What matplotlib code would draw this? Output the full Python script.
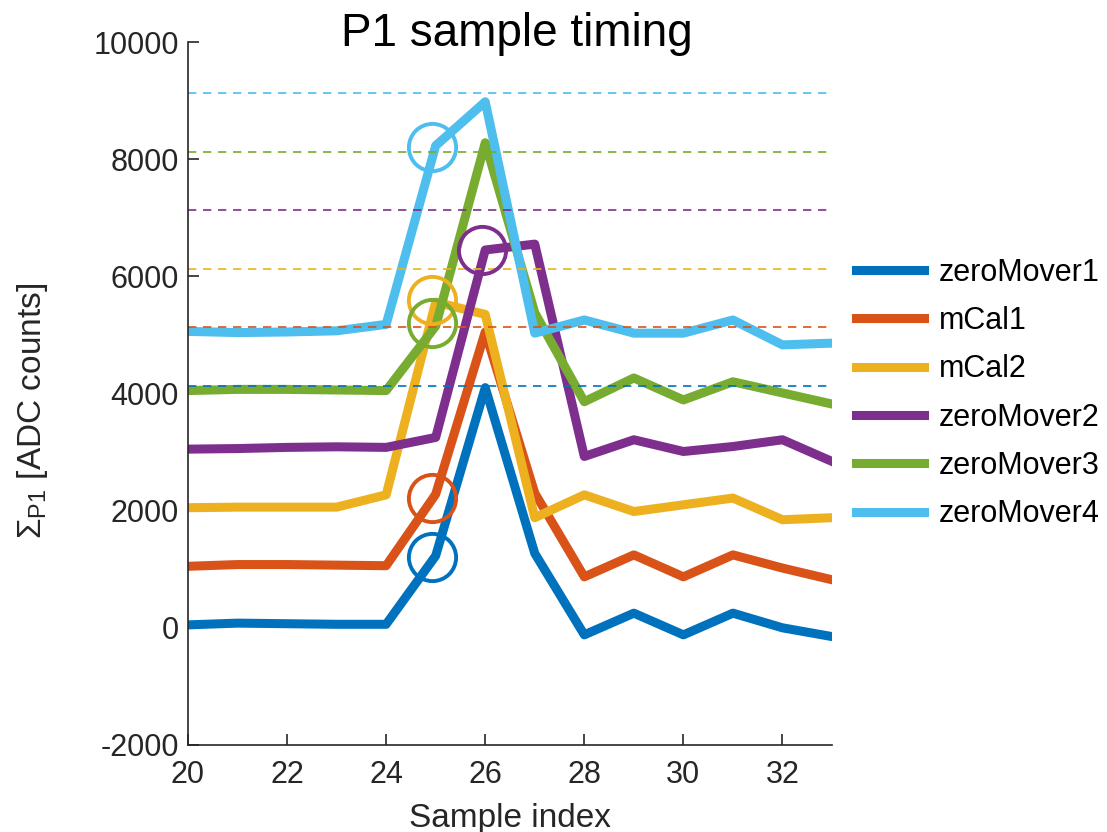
import numpy as np
import matplotlib.pyplot as plt

plt.rcParams['font.family'] = ['Liberation Sans', 'DejaVu Sans']
plt.rcParams['mathtext.fontset'] = 'custom'
plt.rcParams['mathtext.rm'] = 'Liberation Sans'
plt.rcParams['axes.unicode_minus'] = False

# Дані
samples = np.arange(20, 34)
names = ['zeroMover1', 'mCal1', 'mCal2', 'zeroMover2', 'zeroMover3', 'zeroMover4']
colors = ['#0072BD', '#D95319', '#EDB120', '#7E2F8E', '#77AC30', '#4DBEEE']

zeroMover1 = [50, 80, 70, 60, 60, 1230, 4100, 1270, -120, 250, -120, 250, 0, -150]
mCal1 = [1050, 1080, 1080, 1070, 1060, 2280, 5050, 2300, 870, 1245, 870, 1245, 1020, 820]
mCal2 = [2050, 2060, 2060, 2060, 2270, 5560, 5350, 1880, 2270, 1985, 2100, 2215, 1845, 1880]
zeroMover2 = [3050, 3060, 3080, 3090, 3080, 3250, 6450, 6550, 2925, 3210, 3010, 3095, 3210, 2840]
zeroMover3 = [4050, 4070, 4070, 4060, 4050, 5150, 8280, 5380, 3860, 4265, 3890, 4200, 4010, 3820]
zeroMover4 = [5060, 5040, 5050, 5070, 5180, 8230, 8980, 5030, 5255, 5030, 5030, 5255, 4830, 4860]
series = [zeroMover1, mCal1, mCal2, zeroMover2, zeroMover3, zeroMover4]

# Максимуми (пунктир) та точки таймінгу (кола)
max_levels = [4130, 5130, 6130, 7130, 8130, 9130]
timing_x = [24.92, 24.92, 24.92, 25.93, 24.92, 24.92]
timing_y = [1217, 2213, 5600, 6450, 5200, 8215]

fig = plt.figure(figsize=(11.07, 8.32), dpi=100)
ax = fig.add_axes([0.1698, 0.1046, 0.5818, 0.8449])

for s, name, c in zip(series, names, colors):
    ax.plot(samples, s, color=c, linewidth=6.5, label=name)

for lvl, c in zip(max_levels, colors):
    ax.axhline(lvl, color=c, linewidth=1.2, linestyle=(0, (5, 4)))

for tx, ty, c in zip(timing_x, timing_y, colors):
    ax.plot(tx, ty, 'o', markersize=34, markerfacecolor='none',
            markeredgecolor=c, markeredgewidth=2.8)

ax.set_xlim(20, 33)
ax.set_ylim(-2000, 10000)
ax.set_xticks(np.arange(20, 33, 2))
ax.set_yticks(np.arange(-2000, 10001, 2000))
ax.spines['top'].set_visible(False)
ax.spines['right'].set_visible(False)
for sp in ['left', 'bottom']:
    ax.spines[sp].set_color('#262626')
    ax.spines[sp].set_linewidth(1.2)
ax.tick_params(direction='in', length=8, width=1.2, colors='#262626',
               labelsize=22)
ax.tick_params(axis='x', pad=11)
ax.tick_params(axis='y', pad=6.5)

ax.text(0.51, 0.994, 'P1 sample timing', transform=ax.transAxes,
        ha='center', va='baseline', fontsize=33, color='black')
ax.set_xlabel('Sample index', fontsize=24, color='#262626', labelpad=9)
ax.set_ylabel(r'$\Sigma_{\rm P1}$ [ADC counts]', fontsize=24, color='#262626')
ax.yaxis.set_label_coords(-0.214, 0.475)

ax.legend(loc='center left', bbox_to_anchor=(1.0, 0.5), frameon=False,
          fontsize=22, handlelength=2.2, handletextpad=0.5, labelspacing=0.6,
          borderaxespad=0.4)

plt.savefig('out.png', dpi=100)
